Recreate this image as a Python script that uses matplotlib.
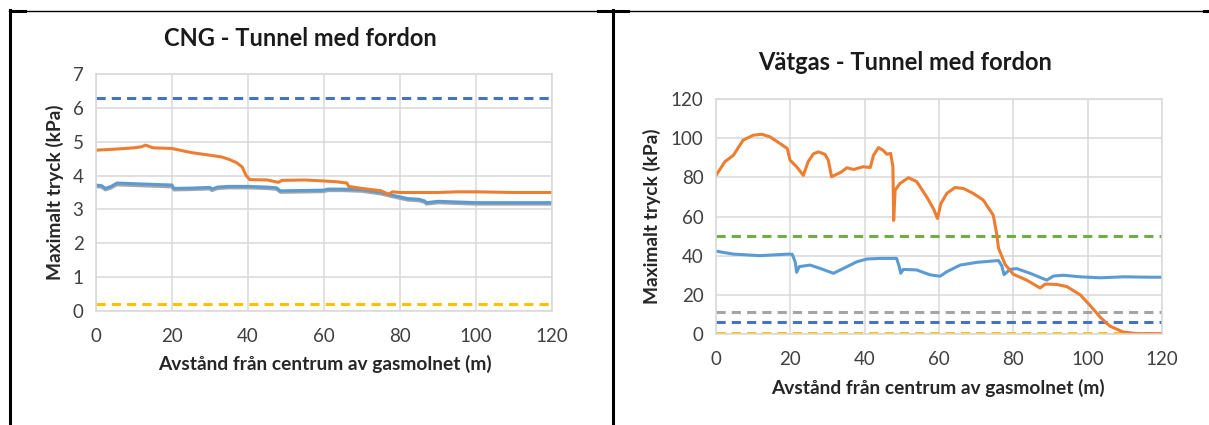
import matplotlib
matplotlib.use('Agg')
import matplotlib.pyplot as plt
from matplotlib.lines import Line2D

plt.rcParams['font.family'] = ['Lato', 'DejaVu Sans']

# CNG - Tunnel med fordon
cng_orange_x = [0, 5, 10, 12, 13, 15, 20, 25, 30, 33, 35, 37, 38.5, 39.5, 40.5, 45, 48, 49, 50,
                55, 60, 63, 66, 66.5, 70, 75, 77, 78, 80, 90, 95, 100, 110, 120]
cng_orange_y = [4.75, 4.78, 4.82, 4.85, 4.9, 4.82, 4.8, 4.68, 4.6, 4.55, 4.48, 4.38, 4.25, 4.0, 3.88,
                3.87, 3.8, 3.86, 3.86, 3.87, 3.84, 3.82, 3.78, 3.68, 3.62, 3.55, 3.45, 3.52, 3.5,
                3.5, 3.52, 3.52, 3.5, 3.5]
cng_blue_x = [0, 1.5, 2.5, 4, 5.5, 10, 15, 20, 20.5, 25, 30, 30.5, 32, 35, 40, 45, 47.5, 48.5, 55,
              60, 61, 65, 70, 75, 78, 82, 85, 86.5, 87, 90, 95, 100, 110, 120]
cng_blue_y = [3.72, 3.7, 3.62, 3.68, 3.78, 3.76, 3.74, 3.72, 3.62, 3.63, 3.65, 3.6, 3.66, 3.68, 3.68,
              3.66, 3.64, 3.55, 3.56, 3.57, 3.6, 3.6, 3.58, 3.5, 3.42, 3.32, 3.3, 3.25, 3.2, 3.24,
              3.22, 3.2, 3.2, 3.2]
cng_grey_y = [3.68, 3.66, 3.58, 3.64, 3.73, 3.71, 3.69, 3.67, 3.58, 3.59, 3.61, 3.56, 3.62, 3.64, 3.64,
              3.62, 3.6, 3.51, 3.52, 3.53, 3.56, 3.56, 3.54, 3.46, 3.38, 3.28, 3.26, 3.21, 3.16, 3.2,
              3.18, 3.16, 3.16, 3.16]
cng_limit_blue = 6.3
cng_limit_yellow = 0.2

# Vätgas - Tunnel med fordon
h2_orange_x = [0, 2.4, 4.7, 5.6, 7.3, 10, 12.3, 14.5, 17.2, 19.2, 19.9, 21.7, 23.5, 24.8, 26.2, 27.5,
               29.3, 30.2, 31.1, 32.5, 33.8, 35.2, 37, 39.6, 41.5, 42.4, 43.7, 44.9, 46, 47, 47.6,
               47.8, 48.2, 49.5, 51.8, 54, 56.7, 58.5, 59.6, 60.5, 62.1, 64.3, 66.6, 69.2, 71.9,
               74.6, 75.5, 76, 76.4, 77.8, 80, 83.6, 87.2, 88.6, 91.7, 94.4, 98, 100.7, 103.4, 106,
               109.6, 113.2, 120]
h2_orange_y = [81, 88, 91.3, 94, 99, 101.5, 102, 100.7, 97.3, 94.7, 88.8, 85.4, 81, 88, 92, 93, 91.8,
               88.8, 80.3, 81.6, 82.8, 84.9, 84, 85.4, 85, 91.3, 95.2, 93.9, 91.8, 92.2, 85.4, 58,
               73.5, 76.9, 79.8, 77.8, 70, 64, 59, 66.6, 71.8, 74.8, 74.3, 71.8, 68.4, 60.7, 51.4,
               44, 42, 35.5, 30.5, 27.5, 23.5, 25.5, 25.3, 24.2, 20, 14.5, 8.5, 4, 1, 0.2, 0.2]
h2_blue_x = [0, 4.7, 11.8, 19.5, 20.5, 21.3, 21.7, 22.4, 25.3, 28, 31.6, 34.3, 37.9, 40.6, 44.1, 48.6,
             49.3, 49.7, 50.4, 54, 57.6, 60.3, 62.1, 65.7, 70.2, 76, 76.9, 77.5, 79.1, 80.9, 84.5,
             89, 90.8, 93.5, 98, 103.4, 109.6, 116.8, 120]
h2_blue_y = [42.3, 40.8, 40, 40.8, 40.7, 36.9, 31.5, 34.4, 35.2, 33.5, 31, 33.5, 36.9, 38.3, 38.6,
             38.6, 34.4, 31, 33, 32.7, 30.2, 29.5, 31.8, 35.2, 36.6, 37.5, 34.8, 30.3, 33, 33.4,
             31, 27.5, 29.6, 30, 29.2, 28.7, 29.2, 29, 29]
h2_limit_green = 50
h2_limit_grey = 11
h2_limit_blue = 6.3
h2_limit_yellow = 0.3

ORANGE = '#ED7D31'
BLUE = '#5B9BD5'
GREY = '#A5A5A5'
YELLOW = '#FFC000'
DBLUE = '#4472C4'
GREEN = '#70AD47'
TXT = '#404040'


def style_axes(ax, ymax, ystep):
    ax.set_xlim(0, 120)
    ax.set_ylim(0, ymax)
    ax.set_xticks(range(0, 121, 20))
    ax.set_yticks(range(0, ymax + 1, ystep))
    ax.grid(True, color='#D9D9D9', lw=1.1)
    ax.set_axisbelow(True)
    for s in ax.spines.values():
        s.set_color('#D9D9D9')
        s.set_linewidth(1.1)
    ax.tick_params(length=0, labelsize=13.5, labelcolor=TXT)
    ax.tick_params(axis='x', pad=12)
    ax.tick_params(axis='y', pad=9)


fig = plt.figure(figsize=(12.09, 4.25), dpi=100)

ax1 = fig.add_axes([96 / 1209, 1 - 311 / 425, 456 / 1209, 237 / 425])
style_axes(ax1, 7, 1)
ax1.axhline(cng_limit_blue, color=DBLUE, lw=2.2, ls=(0, (3, 2)))
ax1.axhline(cng_limit_yellow, color=YELLOW, lw=2.2, ls=(0, (3, 2)))
ax1.plot(cng_blue_x, cng_grey_y, color=GREY, lw=2.4)
ax1.plot(cng_blue_x, cng_blue_y, color=BLUE, lw=2.2)
ax1.plot(cng_orange_x, cng_orange_y, color=ORANGE, lw=2.2)

ax2 = fig.add_axes([716 / 1209, 1 - 334 / 425, 446 / 1209, 235 / 425])
style_axes(ax2, 120, 20)
ax2.axhline(h2_limit_green, color=GREEN, lw=2.2, ls=(0, (3, 2)))
ax2.axhline(h2_limit_grey, color=GREY, lw=2.2, ls=(0, (3, 2)))
ax2.axhline(h2_limit_blue, color=DBLUE, lw=2.2, ls=(0, (3, 2)))
ax2.axhline(h2_limit_yellow, color=YELLOW, lw=2.2, ls=(0, (3, 2)))
ax2.plot(h2_blue_x, h2_blue_y, color=BLUE, lw=2.2)
ax2.plot(h2_orange_x, h2_orange_y, color=ORANGE, lw=2.2)

# titles and axis labels
fig.text(300 / 1209, 1 - 38 / 425, 'CNG - Tunnel med fordon', ha='center', va='center',
         fontsize=17, fontweight='bold', color='#1a1a1a')
fig.text(905 / 1209, 1 - 62 / 425, 'Vätgas - Tunnel med fordon', ha='center', va='center',
         fontsize=17, fontweight='bold', color='#1a1a1a')
fig.text(325 / 1209, 1 - 364 / 425, 'Avstånd från centrum av gasmolnet (m)', ha='center',
         va='center', fontsize=13.8, fontweight='bold', color='#262626')
fig.text(938 / 1209, 1 - 388 / 425, 'Avstånd från centrum av gasmolnet (m)', ha='center',
         va='center', fontsize=13.8, fontweight='bold', color='#262626')
fig.text(55 / 1209, 1 - 192 / 425, 'Maximalt tryck (kPa)', ha='center', va='center',
         rotation=90, fontsize=13.8, fontweight='bold', color='#262626')
fig.text(652 / 1209, 1 - 216 / 425, 'Maximalt tryck (kPa)', ha='center', va='center',
         rotation=90, fontsize=13.8, fontweight='bold', color='#262626')

# table borders of the document
def fline(x0, y0, x1, y1, lw):
    fig.add_artist(Line2D([x0 / 1209, x1 / 1209], [1 - y0 / 425, 1 - y1 / 425],
                          color='black', lw=lw, transform=fig.transFigure))

fline(9, 10.5, 1209, 10.5, 1.0)
fline(10, 10, 10, 425, 2.2)
fline(613, 10, 613, 425, 2.2)
fline(10, 11, 25, 11, 2.2)
fline(598, 11, 628, 11, 2.2)
fline(1204, 11, 1209, 11, 2.2)

fig.savefig('out.png', dpi=100)
